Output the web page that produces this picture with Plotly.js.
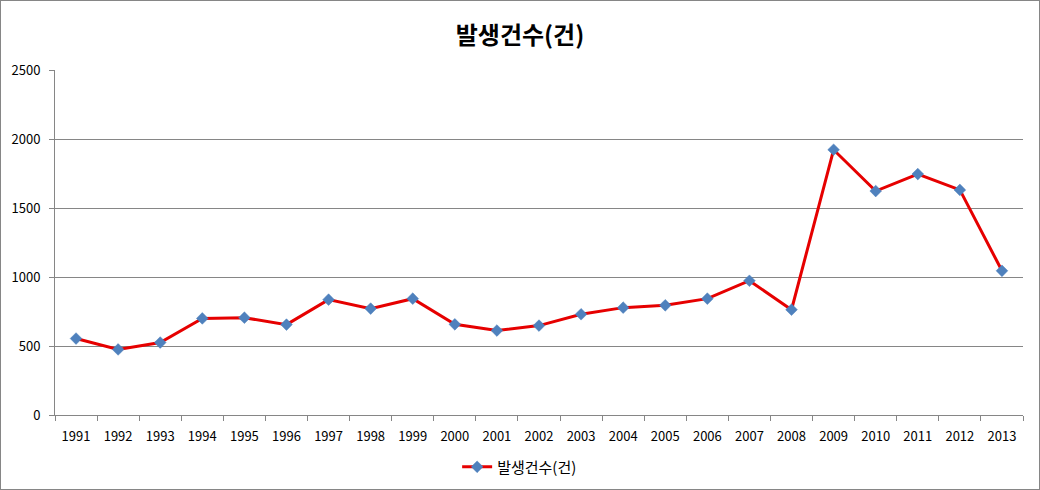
<!DOCTYPE html>
<html>
<head>
<meta charset="utf-8">
<script src="https://cdn.plot.ly/plotly-3.0.1.min.js"></script>
<style>
html,body{margin:0;padding:0;background:#fff;}
#chart{width:1038px;height:488px;border:1px solid #868686;}
</style>
</head>
<body>
<div id="chart"></div>
<script>
const years = ['1991','1992','1993','1994','1995','1996','1997','1998','1999','2000','2001','2002','2003','2004','2005','2006','2007','2008','2009','2010','2011','2012','2013'];
const counts = [554,475,525,700,705,655,836,771,843,657,612,648,730,778,795,843,973,763,1922,1623,1746,1631,1045];
const seriesName = '발생건수(건)';
const yTicks = [0,500,1000,1500,2000,2500];

const trace = {
  x: years,
  y: counts,
  type: 'scatter',
  mode: 'lines+markers',
  name: seriesName,
  line: {color: '#E60000', width: 3},
  marker: {symbol: 'diamond', size: 9, color: '#4F81BD', line: {color: '#4A7EBB', width: 0.5}}
};

const layout = {
  width: 1038,
  height: 488,
  margin: {l: 54, r: 16, t: 69, b: 74, autoexpand: false},
  paper_bgcolor: '#fff',
  plot_bgcolor: '#fff',
  font: {family: '"Noto Sans CJK KR", "Noto Sans", sans-serif', size: 13, color: '#000'},
  title: {text: '<b>발생건수(건)</b>', font: {size: 24, color: '#000', family: '"Noto Sans CJK KR", sans-serif'}, x: 0.5, xanchor: 'center', y: 0.93, yanchor: 'middle'},
  showlegend: true,
  legend: {orientation: 'h', x: 0.48, xanchor: 'center', yref: 'container', y: 0.045, yanchor: 'middle', font: {size: 15}},
  xaxis: {
    type: 'category',
    range: [-0.5, years.length - 0.5],
    automargin: false,
    showline: true, linecolor: '#868686', linewidth: 1,
    ticks: 'outside', tickson: 'boundaries', ticklen: 5, tickcolor: '#868686',
    ticklabelstandoff: 9,
    showgrid: false, zeroline: false,
    tickfont: {size: 13}
  },
  yaxis: {
    range: [0, 2500],
    automargin: false,
    tickvals: yTicks,
    ticktext: yTicks.map(String),
    showline: true, linecolor: '#868686', linewidth: 1,
    ticks: 'outside', ticklen: 5, tickcolor: '#868686',
    ticklabelstandoff: 6,
    showgrid: true, gridcolor: '#868686', gridwidth: 1,
    zeroline: false,
    tickfont: {size: 13}
  }
};

Plotly.newPlot('chart', [trace], layout, {displayModeBar: false});
</script>
</body>
</html>
